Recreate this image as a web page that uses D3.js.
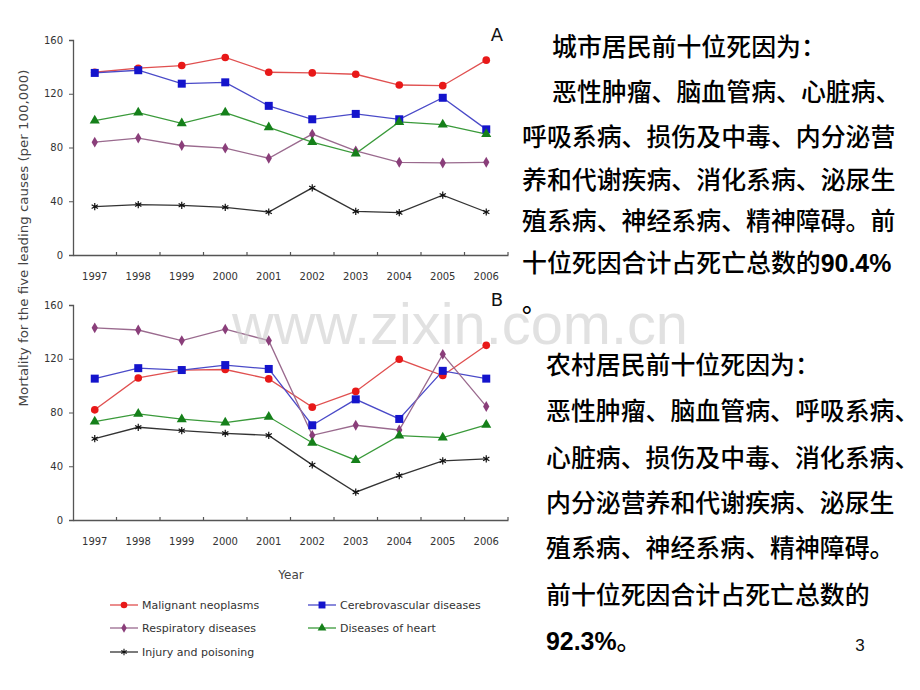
<!DOCTYPE html>
<html>
<head>
<meta charset="utf-8">
<script src="https://cdn.jsdelivr.net/npm/d3@7"></script>
<style>
  html, body { margin: 0; padding: 0; background: #fff; }
  svg { display: block; }
</style>
</head>
<body>
<svg id="chart" width="920" height="690"></svg>
<script>
// ---------- DATA ----------
const years = ["1997","1998","1999","2000","2001","2002","2003","2004","2005","2006"];
const yTicks = [0, 40, 80, 120, 160];

// Panel A (urban)
const urbanMalignant      = [136, 139, 141, 147, 136, 135.5, 134.5, 126.5, 126, 145];
const urbanCerebrovascular= [135.5, 137.5, 127.5, 128.5, 111, 101, 105, 101, 117, 93.5];
const urbanRespiratory    = [84, 87, 81.5, 79.5, 72, 90, 77.5, 69, 68.5, 69];
const urbanHeart          = [100, 106, 98, 106, 95, 84, 75.5, 99, 97, 90];
const urbanInjury         = [36, 37.5, 37, 35.5, 32, 50, 32.5, 31.5, 44.5, 32];

// Panel B (rural)
const ruralMalignant      = [82, 105.7, 111.6, 112, 105, 84, 95.7, 119.6, 107.5, 130];
const ruralCerebrovascular= [105.2, 113, 111.6, 115.3, 112.4, 70.5, 89.8, 75.2, 111, 105.2];
const ruralRespiratory    = [143, 141.4, 133.5, 142, 133.5, 63, 70.5, 67, 123.3, 84.5];
const ruralHeart          = [73.2, 79, 75, 72.5, 76.8, 57.5, 44.5, 62.8, 61.3, 70.8];
const ruralInjury         = [60.5, 69, 66.5, 64.5, 63, 41, 20.7, 33, 44, 45.5];

const seriesNames = ["Malignant neoplasms", "Cerebrovascular diseases", "Respiratory diseases", "Diseases of heart", "Injury and poisoning"];
const panelLabels = ["A", "B"];
const yAxisTitle = "Mortality for the five leading causes (per 100,000)";
const xAxisTitle = "Year";

const urbanTitle = "城市居民前十位死因为：";
const urbanLines = ["恶性肿瘤、脑血管病、心脏病、", "呼吸系病、损伤及中毒、内分泌营", "养和代谢疾病、消化系病、泌尿生", "殖系病、神经系病、精神障碍。前", "十位死因合计占死亡总数的"];
const urbanPct = "90.4%";
const urbanEnd = "。";
const ruralTitle = "农村居民前十位死因为：";
const ruralLines = ["恶性肿瘤、脑血管病、呼吸系病、", "心脏病、损伤及中毒、消化系病、", "内分泌营养和代谢疾病、泌尿生", "殖系病、神经系病、精神障碍。", "前十位死因合计占死亡总数的"];
const ruralPct = "92.3%";
const ruralEnd = "。";
const pageNumber = "3";
const watermark = "www.zixin.com.cn";

// ---------- STYLE ----------
const styles = [
  { line: "#e05050", fill: "#e81818", symbol: d3.symbolCircle,   size: 46 },
  { line: "#4a4ac8", fill: "#1414cc", symbol: d3.symbolSquare,   size: 64 },
  { line: "#9a6a8e", fill: "#8a3e7a", symbol: d3.symbolDiamond,  size: 34 },
  { line: "#3a9a3a", fill: "#15801a", symbol: d3.symbolTriangle, size: 44 },
  { line: "#333333", fill: "none",    symbol: d3.symbolAsterisk, size: 36, stroke: "#111" }
];

const svg = d3.select("#chart");
const axisFont = "DejaVu Sans, Verdana, sans-serif";

const x = d3.scaleBand().domain(years).range([73, 508]).padding(0);

function drawPanel(top, bottom, data, label) {
  const y = d3.scaleLinear().domain([0, 160]).range([bottom, top]);
  const g = svg.append("g");

  const ya = g.append("g").attr("transform", "translate(73,0)")
    .call(d3.axisLeft(y).tickValues(yTicks).tickSize(4).tickPadding(6));
  const xa = g.append("g").attr("transform", `translate(0,${bottom})`)
    .call(d3.axisBottom(x).tickSize(0).tickPadding(18));
  [ya, xa].forEach(a => {
    a.select(".domain").attr("stroke", "#555").attr("stroke-width", 1.3);
    a.selectAll(".tick line").attr("stroke", "#555");
    a.selectAll("text").attr("font-family", axisFont).attr("font-size", 10).attr("fill", "#333");
  });
  const bounds = years.map(d => x(d)).concat([x.range()[1]]).slice(1);
  g.selectAll(".xb").data(bounds).enter().append("line")
    .attr("x1", d => d).attr("x2", d => d)
    .attr("y1", bottom).attr("y2", bottom - 3)
    .attr("stroke", "#555").attr("stroke-width", 1.2);

  const line = d3.line().x((d, i) => x(years[i]) + x.bandwidth() / 2).y(d => y(d));

  data.forEach((vals, si) => {
    const st = styles[si];
    g.append("path").datum(vals).attr("d", line)
      .attr("fill", "none").attr("stroke", st.line).attr("stroke-width", 1.3);
  });
  data.forEach((vals, si) => {
    const st = styles[si];
    g.selectAll(".m" + si).data(vals).enter().append("path")
      .attr("transform", (d, i) => `translate(${x(years[i]) + x.bandwidth() / 2},${y(d)})`)
      .attr("d", d3.symbol().type(st.symbol).size(st.size))
      .attr("fill", st.fill)
      .attr("stroke", st.stroke || "none")
      .attr("stroke-width", st.stroke ? 1.2 : 0);
  });

  g.append("text").attr("x", 497).attr("y", top + 1)
    .attr("text-anchor", "middle")
    .attr("font-family", "DejaVu Sans, sans-serif").attr("font-size", 18)
    .attr("fill", "#111").text(label);
}

drawPanel(40, 255, [urbanMalignant, urbanCerebrovascular, urbanRespiratory, urbanHeart, urbanInjury], panelLabels[0]);
drawPanel(305, 520, [ruralMalignant, ruralCerebrovascular, ruralRespiratory, ruralHeart, ruralInjury], panelLabels[1]);

svg.append("text")
  .attr("transform", "translate(28,238) rotate(-90)")
  .attr("text-anchor", "middle")
  .attr("font-family", axisFont).attr("font-size", 11.5).attr("fill", "#444")
  .attr("textLength", 337).attr("lengthAdjust", "spacingAndGlyphs")
  .text(yAxisTitle);
svg.append("text").attr("x", 291).attr("y", 579)
  .attr("text-anchor", "middle")
  .attr("font-family", axisFont).attr("font-size", 12).attr("fill", "#444")
  .text(xAxisTitle);

const legendPos = [
  { x: 110, y: 605 }, { x: 308, y: 605 },
  { x: 110, y: 628 }, { x: 308, y: 628 },
  { x: 110, y: 652 }
];
seriesNames.forEach((name, i) => {
  const p = legendPos[i], st = styles[i];
  const lg = svg.append("g").attr("transform", `translate(${p.x},${p.y})`);
  lg.append("line").attr("x1", 0).attr("x2", 28).attr("y1", 0).attr("y2", 0)
    .attr("stroke", st.line).attr("stroke-width", 1.3);
  lg.append("path").attr("transform", "translate(14,0)")
    .attr("d", d3.symbol().type(st.symbol).size(st.size * 0.75))
    .attr("fill", st.fill).attr("stroke", st.stroke || "none").attr("stroke-width", st.stroke ? 1.1 : 0);
  lg.append("text").attr("x", 32).attr("y", 4)
    .attr("font-family", axisFont).attr("font-size", 11).attr("fill", "#333")
    .text(name);
});

const cjk = "'Noto Sans CJK SC', sans-serif";
const fs = 24.9;
function cjkLine(txt, xx, cy, pct) {
  const t = svg.append("text").attr("x", xx).attr("y", cy + fs * 0.36)
    .attr("font-family", cjk).attr("font-size", fs).attr("font-weight", 500).attr("fill", "#000");
  t.append("tspan").text(txt);
  if (pct) t.append("tspan").attr("font-family", "'Liberation Sans', Arial, sans-serif")
    .attr("font-weight", 700).text(pct);
  return t;
}
const urbanY = [47, 92, 137, 180, 221, 263, 303];
cjkLine(urbanTitle, 552, urbanY[0]);
cjkLine(urbanLines[0], 552, urbanY[1]);
for (let i = 1; i < urbanLines.length; i++) cjkLine(urbanLines[i], 522, urbanY[i + 1], i === urbanLines.length - 1 ? urbanPct : null);
cjkLine(urbanEnd, 522, urbanY[6]);

const ruralY = [365, 411.5, 458, 503.5, 548.5, 595, 641];
cjkLine(ruralTitle, 546, ruralY[0]);
ruralLines.forEach((l, i) => cjkLine(l, 546, ruralY[i + 1]));
const rl = svg.append("text").attr("x", 546).attr("y", ruralY[6] + fs * 0.36)
  .attr("font-size", fs).attr("fill", "#000");
rl.append("tspan").attr("font-family", "'Liberation Sans', Arial, sans-serif").attr("font-weight", 700).text(ruralPct);
rl.append("tspan").attr("font-family", cjk).attr("font-weight", 500).text(ruralEnd);

svg.append("text").attr("x", 860).attr("y", 651).attr("text-anchor", "middle")
  .attr("font-family", "'Liberation Sans', Arial, sans-serif").attr("font-size", 17).attr("fill", "#111")
  .text(pageNumber);

svg.append("text").attr("x", 232).attr("y", 344)
  .attr("font-family", "'Liberation Sans', Arial, sans-serif").attr("font-size", 58)
  .attr("fill", "#c8c8c8").attr("fill-opacity", 0.55)
  .attr("textLength", 456).attr("lengthAdjust", "spacingAndGlyphs")
  .text(watermark);
</script>
</body>
</html>
